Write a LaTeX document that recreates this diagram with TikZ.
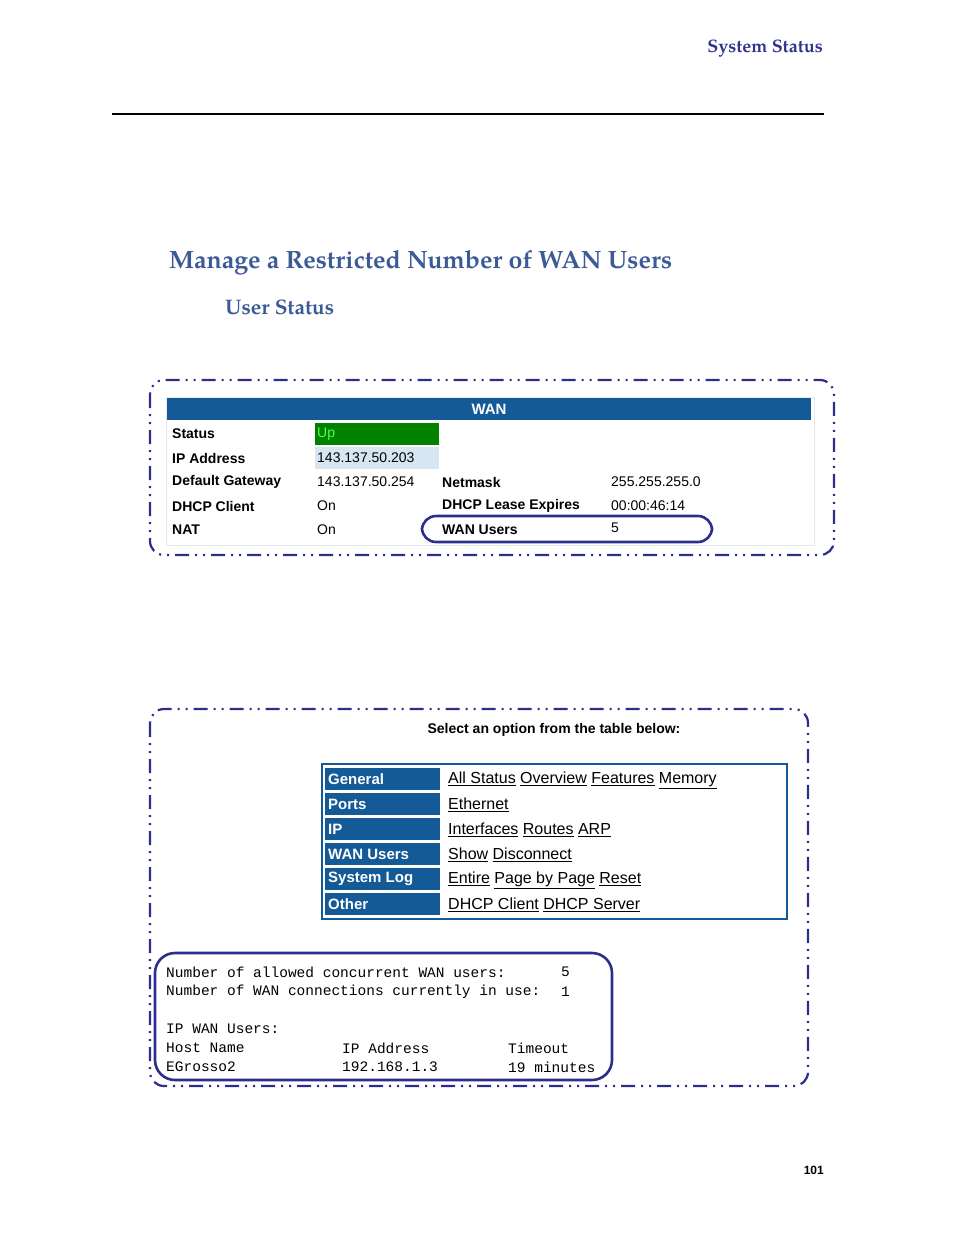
\documentclass[tikz,border=0pt]{standalone}
\usepackage{fontspec}
\setsansfont{Liberation Sans}
\setmonofont{Liberation Mono}
\setmainfont{TeX Gyre Pagella}
\definecolor{headblue}{RGB}{60,90,150}
\definecolor{ttlblue}{RGB}{50,50,140}
\definecolor{frameblue}{RGB}{45,45,140}
\definecolor{wanblue}{RGB}{20,90,150}
\definecolor{upgreen}{RGB}{0,130,0}
\definecolor{ipbg}{RGB}{215,230,240}
\definecolor{rowline}{RGB}{225,235,240}
\begin{document}
\begin{tikzpicture}[x=1pt,y=-1pt,
  dd/.style={draw=frameblue,line width=2.2pt,rounded corners=14pt,dash pattern=on 14pt off 6pt on 2pt off 6pt on 2pt off 6pt},
  ring/.style={draw=frameblue,line width=2.6pt,rounded corners=14pt},
  lab/.style={anchor=west,inner sep=0pt,font=\sffamily\bfseries\fontsize{14}{16}\selectfont},
  val/.style={anchor=west,inner sep=0pt,font=\sffamily\fontsize{14}{16}\selectfont},
  cat/.style={anchor=west,inner sep=0pt,text=white,font=\sffamily\bfseries\fontsize{15}{17}\selectfont},
  lnk/.style={anchor=west,inner sep=0pt,font=\sffamily\fontsize{16}{18}\selectfont},
  mono/.style={anchor=west,inner sep=0pt,font=\ttfamily\fontsize{14.5}{16}\selectfont}]
\useasboundingbox (0,0) rectangle (954,1235);
\node[anchor=east,inner sep=0pt,text=ttlblue,font=\bfseries\fontsize{18}{20}\selectfont] (hdr) at (823,49) {System Status};
\draw[line width=1.2pt] (112,114) -- (824,114);
\node[anchor=west,inner sep=0pt,text=headblue,font=\bfseries\fontsize{25}{28}\selectfont] (t1) at (169,263) {Manage a Restricted Number of WAN Users};
\node[anchor=west,inner sep=0pt,text=headblue,font=\bfseries\fontsize{21}{24}\selectfont] (t2) at (225,307) {User Status};
% WAN table
\draw[dd] (150,380) rectangle (834,555);
\draw[rowline] (166,397) rectangle (814,545);
\fill[wanblue] (167,398) rectangle (811,420);
\node[inner sep=0pt,text=white,font=\sffamily\bfseries\fontsize{15}{17}\selectfont] (wan) at (489,409) {WAN};
\fill[upgreen] (315,423) rectangle (439,445);
\fill[ipbg] (315,447) rectangle (439,469);
\node[lab] (s1) at (172,434) {Status};
\node[val,text=green!70!white] (v1) at (317,434) {Up};
\node[lab] (s2) at (172,458) {IP Address};
\node[val] (v2) at (317,458) {143.137.50.203};
\node[lab] (s3) at (172,482) {Default Gateway};
\node[val] (v3) at (317,482) {143.137.50.254};
\node[lab] (s4) at (442,482) {Netmask};
\node[val] (v4) at (611,482) {255.255.255.0};
\node[lab] (s5) at (172,506) {DHCP Client};
\node[val] (v5) at (317,506) {On};
\node[lab] (s6) at (442,506) {DHCP Lease Expires};
\node[val] (v6) at (611,506) {00:00:46:14};
\node[lab] (s7) at (172,530) {NAT};
\node[val] (v7) at (317,530) {On};
\node[lab] (s8) at (442,530) {WAN Users};
\node[val] (v8) at (611,528) {5};
\draw[ring] (422,516) rectangle (712,542);
% second panel
\draw[dd] (150,709) rectangle (808,1086);
\node[inner sep=0pt,font=\sffamily\bfseries\fontsize{14}{16}\selectfont] (sel) at (554,730) {Select an option from the table below:};
\draw[wanblue,line width=1.8pt] (322,764) rectangle (787,919);
\foreach \y/\c/\n in {779/General/g,804/Ports/p,829/IP/i,854/WAN Users/w,879/System Log/s,904/Other/o}{
  \fill[wanblue] (325,\y-11) rectangle (440,\y+11);
  \node[cat] (c\n) at (328,\y) {\c};
}
\node[lnk] (l1) at (448,780) {\underline{All Status} \underline{Overview} \underline{Features} \underline{Memory}};
\node[lnk] (l2) at (448,805) {\underline{Ethernet}};
\node[lnk] (l3) at (448,830) {\underline{Interfaces} \underline{Routes} \underline{ARP}};
\node[lnk] (l4) at (448,855) {\underline{Show} \underline{Disconnect}};
\node[lnk] (l5) at (448,880) {\underline{Entire} \underline{Page by Page} \underline{Reset}};
\node[lnk] (l6) at (448,905) {\underline{DHCP Client} \underline{DHCP Server}};
\draw[ring,rounded corners=20pt] (155,953) rectangle (612,1080);
\node[mono] (m1) at (166,972) {Number of allowed concurrent WAN users:};
\node[mono] (m1v) at (561,972) {5};
\node[mono] (m2) at (166,992) {Number of WAN connections currently in use:};
\node[mono] (m2v) at (561,992) {1};
\node[mono] (m3) at (166,1029) {IP WAN Users:};
\node[mono] (m4) at (166,1048) {Host Name};
\node[mono] (m5) at (342,1048) {IP Address};
\node[mono] (m6) at (508,1048) {Timeout};
\node[mono] (m7) at (166,1067) {EGrosso2};
\node[mono] (m8) at (342,1067) {192.168.1.3};
\node[mono] (m9) at (508,1067) {19 minutes};
\node[anchor=east,inner sep=0pt,font=\sffamily\bfseries\fontsize{12}{14}\selectfont] (pg) at (824,1170) {101};
\end{tikzpicture}
\end{document}
